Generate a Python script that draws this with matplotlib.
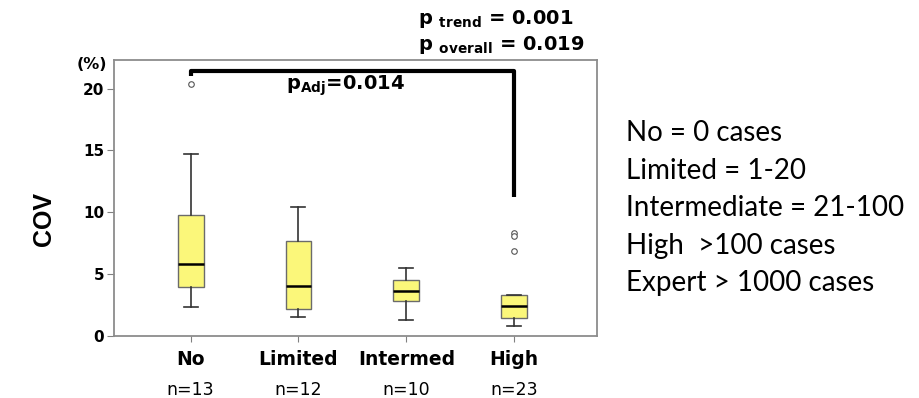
import matplotlib
matplotlib.use("Agg")
import matplotlib.pyplot as plt

# Experience groups and their box-plot summaries (COV, %)
groups = ["No", "Limited", "Intermed", "High"]
counts = ["n=13", "n=12", "n=10", "n=23"]
whisker_low = [2.37, 1.53, 1.32, 0.81]
q1 = [3.98, 2.15, 2.80, 1.42]
medians = [5.83, 4.03, 3.60, 2.45]
q3 = [9.76, 7.69, 4.49, 3.31]
whisker_high = [14.7, 10.46, 5.51, 3.31]
outliers = [[20.4], [], [], [8.35, 8.05, 6.85]]

yticks = [0, 5, 10, 15, 20]
legend_lines = ["No = 0 cases", "Limited = 1-20", "Intermediate = 21-100",
                "High  >100 cases", "Expert > 1000 cases"]

# bracket between No and High
bracket_y = 21.4
bracket_drop = 11.2

plt.rcParams["mathtext.fontset"] = "custom"
plt.rcParams["mathtext.bf"] = "DejaVu Sans:bold"
plt.rcParams["mathtext.rm"] = "DejaVu Sans:bold"

fig = plt.figure(figsize=(9.19, 3.98), dpi=100)
ax = fig.add_axes([0.124, 0.156, 0.526, 0.693])

stats = []
for i in range(len(groups)):
    stats.append(dict(whislo=whisker_low[i], q1=q1[i], med=medians[i],
                      q3=q3[i], whishi=whisker_high[i], fliers=outliers[i]))

positions = list(range(1, len(groups) + 1))
ax.bxp(stats, positions=positions, widths=0.24, patch_artist=True,
       boxprops=dict(facecolor="#FBF77A", edgecolor="#6b6b6b", linewidth=1.0),
       medianprops=dict(color="black", linewidth=1.8),
       whiskerprops=dict(color="#333333", linewidth=1.2),
       capprops=dict(color="#333333", linewidth=1.2),
       capwidths=0.13,
       flierprops=dict(marker="o", markersize=4, markerfacecolor="white",
                       markeredgecolor="#555555", markeredgewidth=0.8))

ax.set_xlim(0.29, 4.77)
ax.set_ylim(0, 22.3)
ax.set_yticks(yticks)
ax.set_yticklabels([str(t) for t in yticks], fontsize=11, fontweight="bold",
                   family="DejaVu Sans")
ax.set_xticks(positions)
ax.set_xticklabels(groups, fontsize=13.5, fontweight="bold", family="DejaVu Sans")
ax.tick_params(axis="x", length=4, color="#808080", pad=6)
ax.tick_params(axis="y", length=5, color="#808080", pad=2)
for s in ax.spines.values():
    s.set_color("#8c8c8c")
    s.set_linewidth(1.3)

# counts under the category labels
for p, c in zip(positions, counts):
    ax.text(p, -0.165, c, transform=ax.get_xaxis_transform(), ha="center",
            va="top", fontsize=12.5, family="DejaVu Sans")

# significance bracket
ax.plot([1, 1, 4, 4], [bracket_y - 0.35, bracket_y, bracket_y, bracket_drop],
        color="black", linewidth=3, clip_on=False, solid_capstyle="butt")
ax.text(2.44, 20.2, r"p$_{\mathrm{Adj}}$=0.014", ha="center", va="center",
        fontsize=14, fontweight="bold")

ax.text(-0.046, 0.985, "(%)", transform=ax.transAxes, ha="center", va="center",
        fontsize=11.5, fontweight="bold", family="DejaVu Sans")
fig.text(0.048, 0.45, "COV", rotation=90, ha="center", va="center",
         fontsize=18, fontweight="bold", family="Liberation Sans")

fig.text(0.455, 0.952, r"p $_{\mathrm{trend}}$ = 0.001", ha="left", va="center",
         fontsize=14, fontweight="bold")
fig.text(0.455, 0.888, r"p $_{\mathrm{overall}}$ = 0.019", ha="left", va="center",
         fontsize=14, fontweight="bold")

for i, line in enumerate(legend_lines):
    fig.text(0.681, 0.665 - i * 0.094, line, ha="left", va="center",
             fontsize=20, family="Lato")

fig.savefig("out.png", dpi=100)
